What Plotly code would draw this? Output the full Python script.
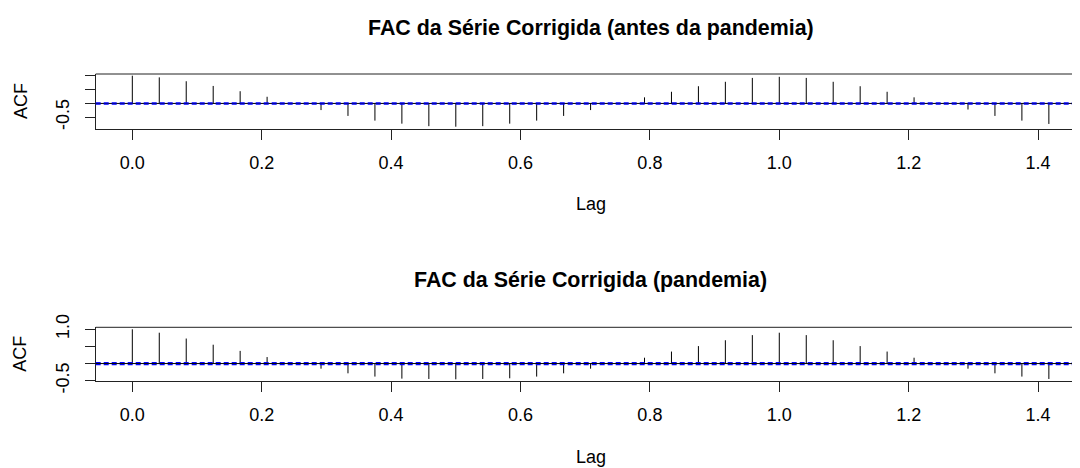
import plotly.graph_objects as go

# ---------------- data ----------------
frequency = 24
lag_index = list(range(35))
acf_antes = [1.00, 0.94, 0.80, 0.63, 0.44, 0.24, 0.01, -0.24, -0.45, -0.62, -0.73, -0.82, -0.84,
             -0.82, -0.73, -0.62, -0.45, -0.24, 0.00, 0.22, 0.42, 0.62, 0.78, 0.92, 0.96, 0.92,
             0.78, 0.62, 0.42, 0.22, 0.01, -0.22, -0.45, -0.62, -0.74]
acf_pandemia = [1.00, 0.90, 0.73, 0.55, 0.37, 0.19, 0.01, -0.15, -0.285, -0.38, -0.44, -0.45, -0.46,
                -0.45, -0.43, -0.38, -0.285, -0.15, 0.00, 0.17, 0.35, 0.51, 0.68, 0.83, 0.90, 0.83,
                0.68, 0.51, 0.35, 0.17, 0.00, -0.15, -0.285, -0.38, -0.45]
clim_antes = 0.025
clim_pandemia = 0.03
x_tick_vals = [0.0, 0.2, 0.4, 0.6, 0.8, 1.0, 1.2, 1.4]
x_tick_text = ["0.0", "0.2", "0.4", "0.6", "0.8", "1.0", "1.2", "1.4"]
y_tick_vals = [-0.5, 0.0, 0.5, 1.0]
y_tick_text_antes = ["-0.5", "", "", ""]
y_tick_text_pandemia = ["-0.5", "", "", "1.0"]
title_antes = "FAC da Série Corrigida (antes da pandemia)"
title_pandemia = "FAC da Série Corrigida (pandemia)"

# ---------------- layout constants ----------------
OFF = 8  # page body margin
W, H = 1080 - OFF, 468 - OFF
FONT = "Liberation Sans"
BASE = 18
lags = [k / frequency for k in lag_index]


def px_x(sx):
    return (sx - OFF) / W


def px_y(sy):
    return 1 - (sy - OFF) / H


def spikes(vals):
    xs, ys = [], []
    for x, v in zip(lags, vals):
        xs += [x, x, None]
        ys += [0, v, None]
    return xs, ys


fig = go.Figure()
for i, vals in enumerate([acf_antes, acf_pandemia]):
    xs, ys = spikes(vals)
    fig.add_trace(go.Scatter(x=xs, y=ys, mode="lines", line=dict(color="black", width=1),
                             xaxis="x" if i == 0 else "x2", yaxis="y" if i == 0 else "y2",
                             hoverinfo="skip", showlegend=False))

x_left_px = 95.7
xrange = [-0.0566, 1.4648]
common_x = dict(range=xrange, showgrid=False, zeroline=False, showline=True, linecolor="#222",
                linewidth=1, ticks="outside", ticklen=10, tickwidth=1, tickcolor="#222",
                tickvals=x_tick_vals, ticktext=x_tick_text, ticklabelstandoff=7,
                tickfont=dict(family=FONT, size=BASE, color="black"),
                domain=[px_x(x_left_px), 1], fixedrange=True)
common_y = dict(showgrid=False, zeroline=False, showline=True, linecolor="#222", linewidth=1,
                ticks="outside", ticklen=10, tickwidth=1, tickcolor="#222",
                tickvals=y_tick_vals, tickangle=-90, ticklabelstandoff=9,
                tickfont=dict(family=FONT, size=BASE, color="black"), fixedrange=True)

fig.update_layout(
    width=W, height=H, margin=dict(l=0, r=0, t=0, b=0),
    paper_bgcolor="white", plot_bgcolor="white", template="none", showlegend=False,
    xaxis=dict(common_x, anchor="y"),
    xaxis2=dict(common_x, anchor="y2"),
    yaxis=dict(common_y, range=[-0.922, 1.061], ticktext=y_tick_text_antes,
               domain=[px_y(129), px_y(74)], anchor="x"),
    yaxis2=dict(common_y, range=[-0.509, 1.058], ticktext=y_tick_text_pandemia,
                domain=[px_y(381), px_y(327.3)], anchor="x2"),
)

shapes = []
for xa, ya, clim in [("x", "y", clim_antes), ("x2", "y2", clim_pandemia)]:
    shapes.append(dict(type="line", xref=f"{xa} domain", yref=f"{ya} domain", x0=0, x1=1, y0=1, y1=1,
                       line=dict(color="#222", width=1)))
    shapes.append(dict(type="line", xref=f"{xa} domain", yref=ya, x0=0, x1=1, y0=0, y1=0,
                       line=dict(color="black", width=1)))
    for c in (clim, -clim):
        shapes.append(dict(type="line", xref=f"{xa} domain", yref=ya, x0=0, x1=1, y0=c, y1=c,
                           line=dict(color="#0000FF", width=1.1, dash="5px,3px")))
fig.update_layout(shapes=shapes)

plot_cx = px_x((x_left_px + 1085.6) / 2)
annotations = []
for dy, title, box_c in [(0, title_antes, 101.5), (252.5, title_pandemia, 354.2)]:
    annotations.append(dict(text=f"<b>{title}</b>", x=plot_cx, y=px_y(27.5 + dy), xref="paper", yref="paper",
                            showarrow=False, xanchor="center", yanchor="middle",
                            font=dict(family=FONT, size=21.4, color="black")))
    annotations.append(dict(text="Lag", x=plot_cx, y=px_y(204.3 + dy), xref="paper", yref="paper",
                            showarrow=False, xanchor="center", yanchor="middle",
                            font=dict(family=FONT, size=BASE, color="black")))
    annotations.append(dict(text="ACF", x=px_x(20.5), y=px_y(box_c), xref="paper", yref="paper",
                            showarrow=False, xanchor="center", yanchor="middle", textangle=-90,
                            font=dict(family=FONT, size=BASE, color="black")))
fig.update_layout(annotations=annotations)

fig.write_html("out.html")
